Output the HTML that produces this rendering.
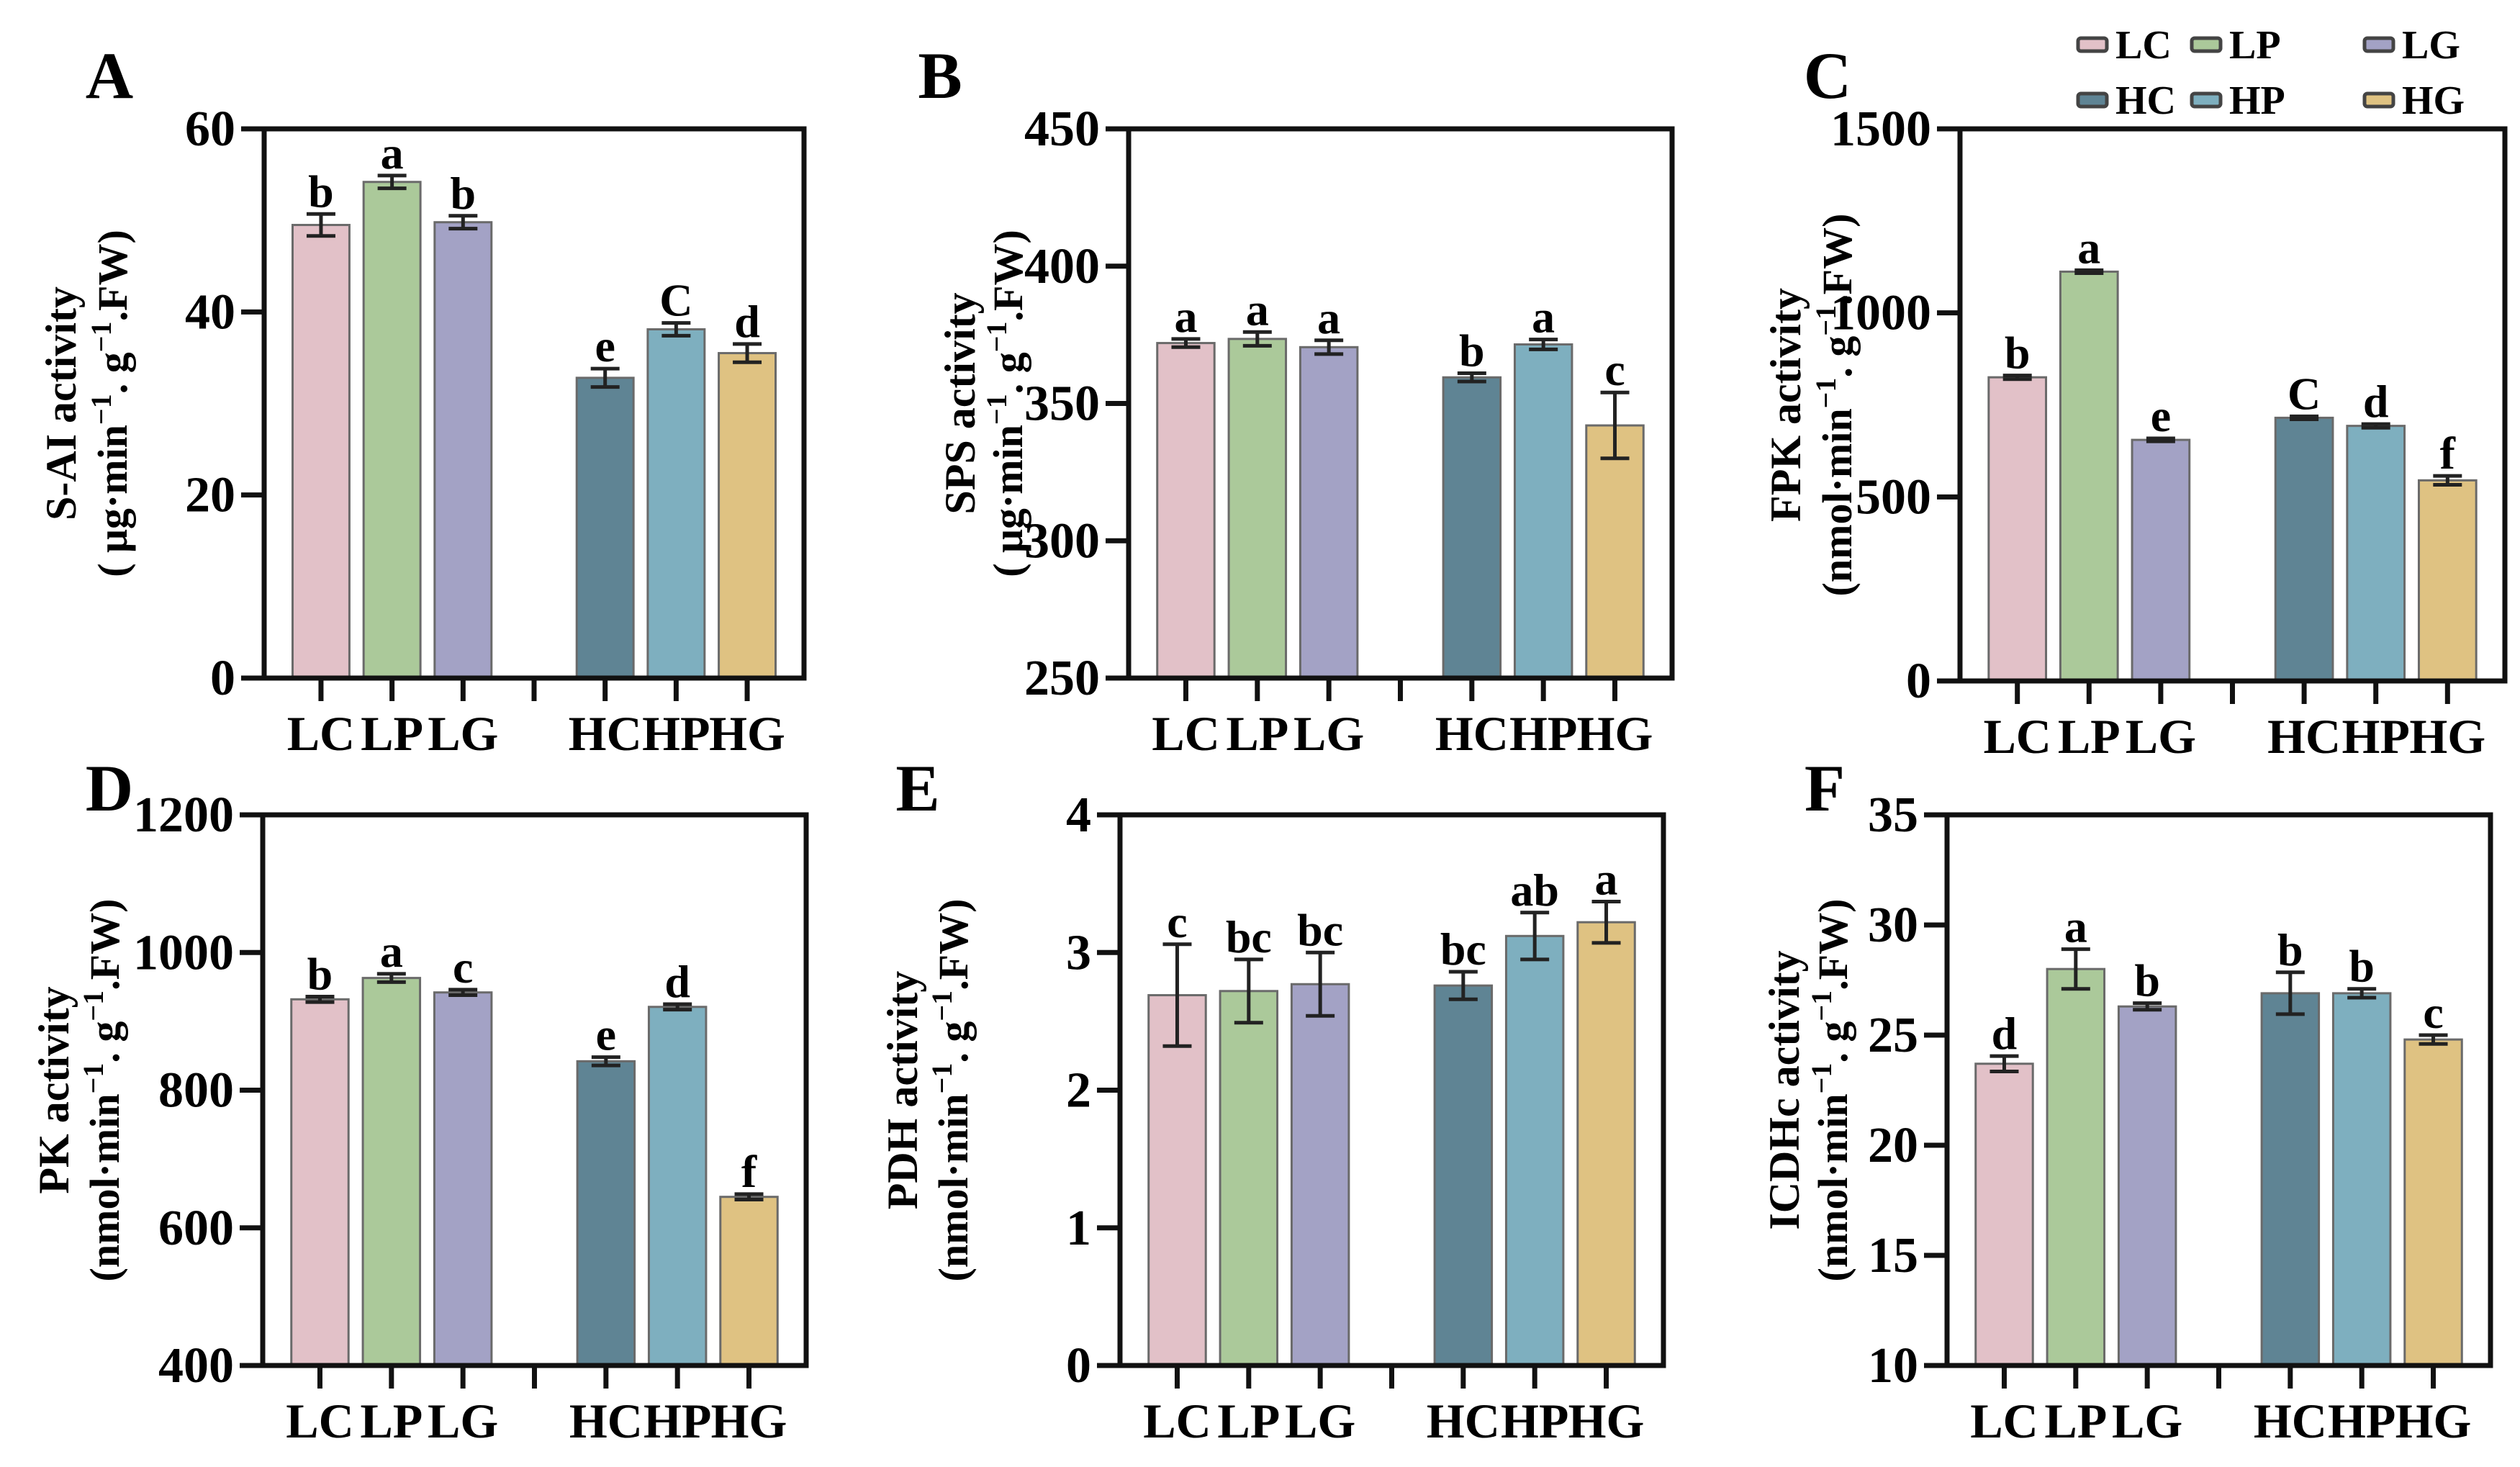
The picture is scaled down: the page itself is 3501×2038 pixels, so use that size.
<!DOCTYPE html>
<html><head><meta charset="utf-8">
<style>
html,body{margin:0;padding:0;background:#fff;}
svg{display:block;font-family:"Liberation Serif",serif;font-weight:bold;}
</style></head>
<body>
<svg id="fig" width="3501" height="2038" viewBox="0 0 3501 2038" xmlns="http://www.w3.org/2000/svg"></svg>
<script>
const categories = ["LC","LP","LG","HC","HP","HG"];
const colors = ["#e2c1c8","#abc99a","#a3a2c5","#5f8494","#7eafbf","#dfc282"];
const aValues = [49.5,54.2,49.8,32.8,38.1,35.5];
const aErrors = [1.2,0.7,0.7,1.0,0.7,1.0];
const aLetters = ["b","a","b","e","C","d"];
const aTicks = [0,20,40,60];
const bValues = [372,373.5,370.5,359.5,371.5,342];
const bErrors = [1.5,2.5,2.5,1.5,1.8,12];
const bLetters = ["a","a","a","b","a","c"];
const bTicks = [250,300,350,400,450];
const cValues = [825,1112,655,715,693,545];
const cErrors = [5,4,4,4,5,12];
const cLetters = ["b","a","e","C","d","f"];
const cTicks = [0,500,1000,1500];
const dValues = [932,963,942,842,921,645];
const dErrors = [4,6,4,6,4,4];
const dLetters = ["b","a","c","e","d","f"];
const dTicks = [400,600,800,1000,1200];
const eValues = [2.69,2.72,2.77,2.76,3.12,3.22];
const eErrors = [0.37,0.23,0.23,0.1,0.17,0.15];
const eLetters = ["c","bc","bc","bc","ab","a"];
const eTicks = [0,1,2,3,4];
const fValues = [23.7,28.0,26.3,26.9,26.9,24.8];
const fErrors = [0.35,0.9,0.15,0.95,0.2,0.2];
const fLetters = ["d","a","b","b","b","c"];
const fTicks = [10,15,20,25,30,35];

const NS = "http://www.w3.org/2000/svg";
const svg = document.getElementById("fig");
function mk(tag, attrs, parent){
  const e = document.createElementNS(NS, tag);
  for (const k in attrs) e.setAttribute(k, attrs[k]);
  (parent||svg).appendChild(e);
  return e;
}

const panels = [
 {id:"a",letter:"A",L:367,R:1117,T:179,B:942,vals:aValues,errs:aErrors,lets:aLetters,ticks:aTicks,t1:"S-AI activity",unit:"( μg·min",t2off:[-282,-211],lx:152,ly:136},
 {id:"b",letter:"B",L:1568,R:2323,T:179,B:942,vals:bValues,errs:bErrors,lets:bLetters,ticks:bTicks,t1:"SPS activity",unit:"( μg·min",t2off:[-234,-168],lx:1306,ly:136},
 {id:"c",letter:"C",L:2723,R:3480,T:179,B:946,vals:cValues,errs:cErrors,lets:cLetters,ticks:cTicks,t1:"FPK activity",unit:"(nmol·min",t2off:[-242,-171],lx:2539,ly:136},
 {id:"d",letter:"D",L:365,R:1120,T:1132,B:1897,vals:dValues,errs:dErrors,lets:dLetters,ticks:dTicks,t1:"PK activity",unit:"(nmol·min",t2off:[-290,-220],lx:152,ly:1126},
 {id:"e",letter:"E",L:1556,R:2311,T:1132,B:1897,vals:eValues,errs:eErrors,lets:eLetters,ticks:eTicks,t1:"PDH activity",unit:"(nmol·min",t2off:[-302,-232],lx:1275,ly:1126},
 {id:"f",letter:"F",L:2705,R:3460,T:1132,B:1897,vals:fValues,errs:fErrors,lets:fLetters,ticks:fTicks,t1:"ICDHc activity",unit:"(nmol·min",t2off:[-226,-159],lx:2535,ly:1126}
];

panels.forEach(p=>{
  const g = mk("g",{});
  
  
  const lo = p.ticks[0], hi = p.ticks[p.ticks.length-1];
  const y = v => p.B - (v-lo)/(hi-lo)*(p.B-p.T);
  const slot = (p.R-p.L)/7.6;
  const x = i => p.L + 0.8*slot + (i<3 ? i : i+1)*slot;
  const bw = slot*0.8;

  const pl = mk("text",{x:p.lx,y:p.ly,"font-size":92,"text-anchor":"middle"},g);
  pl.textContent = p.letter;
  
  

  p.vals.forEach((v,i)=>{
    const r = mk("rect",{x:x(i)-bw/2,y:y(v),width:bw,height:p.B-y(v),fill:colors[i],stroke:"#6a6a6a","stroke-width":3},g);
    
    
    const e = p.errs[i];
    const eg = mk("g",{stroke:"#222","stroke-width":5},g);
    
    
    mk("line",{x1:x(i),x2:x(i),y1:y(v+e),y2:y(v-e)},eg);
    mk("line",{x1:x(i)-20,x2:x(i)+20,y1:y(v+e),y2:y(v+e)},eg);
    mk("line",{x1:x(i)-20,x2:x(i)+20,y1:y(v-e),y2:y(v-e)},eg);
    const t = mk("text",{x:x(i),y:y(v+e)-10,"font-size":64,"text-anchor":"middle"},g);
    t.textContent = p.lets[i];
    
    
    const xl = mk("text",{x:x(i),y:p.B+100,"font-size":68,"text-anchor":"middle"},g);
    xl.textContent = categories[i];
    
    
  });

  const box = mk("rect",{x:p.L,y:p.T,width:p.R-p.L,height:p.B-p.T,fill:"none",stroke:"#111","stroke-width":7},g);
  
  
  for(let k=0;k<7;k++){
    const xx = p.L + 0.8*slot + k*slot;
    mk("line",{x1:xx,x2:xx,y1:p.B,y2:p.B+32,stroke:"#111","stroke-width":7},g);
  }
  p.ticks.forEach(tv=>{
    mk("line",{x1:p.L-32,x2:p.L,y1:y(tv),y2:y(tv),stroke:"#111","stroke-width":7},g);
    const tl = mk("text",{x:p.L-40,y:y(tv)+23,"font-size":70,"text-anchor":"end"},g);
    tl.textContent = tv;
    
    
  });
  const cy = (p.T+p.B)/2;
  const x1 = p.L + p.t2off[0], x2 = p.L + p.t2off[1];
  const yt1 = mk("text",{x:x1+20,y:cy,"font-size":60,"text-anchor":"middle",transform:`rotate(-90 ${x1+20} ${cy})`},g);
  yt1.textContent = p.t1;
  
  
  const yt2 = mk("text",{x:x2+20,y:cy,"font-size":58,"text-anchor":"middle",transform:`rotate(-90 ${x2+20} ${cy})`},g);
  yt2.innerHTML = p.unit+'<tspan dy="-22" font-size="40">−1</tspan><tspan dy="22">. g</tspan><tspan dy="-22" font-size="40">−1</tspan><tspan dy="22">.FW)</tspan>';
  
  
});

const legX = [2887,3045,3285];
const legY = [62,139];
const lg = mk("g",{});


categories.forEach((c,i)=>{
  const xx = legX[i%3], yy = legY[Math.floor(i/3)];
  const e = mk("g",{},lg);
  
  
  mk("rect",{x:xx,y:yy-9,width:40,height:18,rx:4,fill:colors[i],stroke:"#444","stroke-width":5},e);
  const t = mk("text",{x:xx+52,y:yy+19,"font-size":56},e);
  t.textContent = c;
});
</script>
</body></html>
